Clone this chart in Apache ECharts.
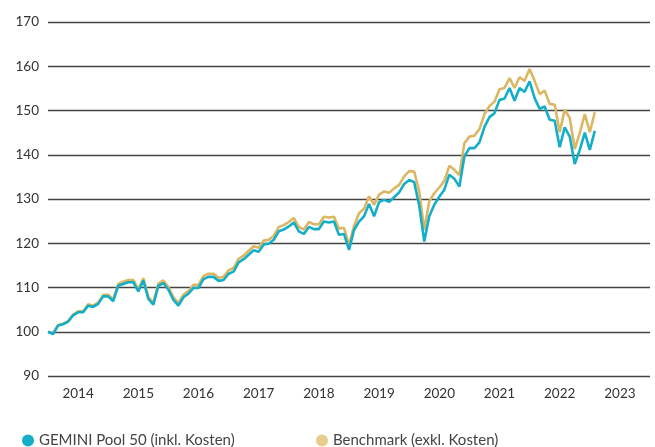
<!DOCTYPE html>
<html>
<head>
<meta charset="utf-8">
<script src="https://cdn.jsdelivr.net/npm/echarts@6/dist/echarts.min.js"></script>
<style>
  html, body { margin: 0; padding: 0; background: #fff; }
  #chart { width: 655px; height: 447px; }
</style>
</head>
<body>
<div id="chart"></div>
<script>
// Jahreslabels der x-Achse
const years = ['2014', '2015', '2016', '2017', '2018', '2019', '2020', '2021', '2022', '2023'];

// Monatsendwerte ab Dez 2013 (=100) bis Jan 2023
const gemini = [
  100.0, 99.5, 101.4, 101.7, 102.3, 103.7, 104.4, 104.4, 105.9, 105.6, 106.3, 108.0,
  108.0, 106.9, 110.4, 110.8, 111.2, 111.2, 109.1, 111.6, 107.4, 106.1, 110.4, 111.0,
  109.5, 107.2, 105.9, 107.8, 108.6, 109.9, 109.9, 111.9, 112.4, 112.4, 111.5, 111.7,
  113.1, 113.6, 115.7, 116.4, 117.4, 118.4, 118.1, 119.7, 119.9, 120.8, 122.7, 123.1,
  123.8, 124.7, 122.7, 122.1, 123.7, 123.2, 123.2, 124.9, 124.7, 124.9, 121.9, 122.1,
  118.5, 123.0, 124.9, 126.1, 128.9, 126.1, 129.3, 129.8, 129.4, 130.4, 131.5, 133.4,
  134.3, 133.8, 128.5, 120.4, 126.1, 128.7, 130.5, 132.1, 135.5, 134.6, 132.8, 139.6,
  141.5, 141.5, 142.8, 146.3, 148.5, 149.4, 152.4, 152.7, 155.1, 152.2, 155.1, 154.2,
  156.6, 152.8, 150.4, 150.9, 147.9, 147.7, 141.7, 146.2, 144.1, 137.9, 141.1, 145.0,
  141.1, 145.4
];
const benchmark = [
  100.0, 99.6, 101.5, 101.8, 102.4, 103.9, 104.6, 104.6, 106.2, 105.9, 106.6, 108.3,
  108.4, 107.3, 110.8, 111.3, 111.7, 111.7, 109.6, 112.1, 107.9, 106.6, 110.9, 111.6,
  110.1, 107.8, 106.5, 108.4, 109.2, 110.6, 110.6, 112.6, 113.1, 113.1, 112.2, 112.4,
  113.9, 114.4, 116.5, 117.2, 118.3, 119.3, 119.0, 120.6, 120.8, 121.7, 123.7, 124.1,
  124.8, 125.7, 123.7, 123.1, 124.8, 124.3, 124.3, 126.0, 125.8, 126.0, 123.3, 123.5,
  119.6, 123.9, 126.8, 127.8, 130.6, 128.7, 131.0, 131.7, 131.4, 132.4, 133.2, 135.1,
  136.3, 136.2, 131.7, 123.0, 129.5, 131.3, 132.6, 134.1, 137.5, 136.6, 135.4, 142.6,
  144.1, 144.3, 145.8, 149.2, 151.0, 152.0, 154.8, 155.1, 157.3, 155.1, 157.5, 156.7,
  159.4, 156.7, 153.7, 154.5, 151.5, 151.3, 145.1, 150.2, 148.3, 141.3, 144.9, 149.2,
  145.1, 149.6
];

const TEAL = '#15aec8';
const GOLD = '#dbb763';

// Monatskategorien: Index 0 = Ende Dez 2013, Index 120 = Ende Dez 2023
const months = ['2013-12'];
years.forEach(y => {
  for (let m = 1; m <= 12; m++) months.push(y + '-' + String(m).padStart(2, '0'));
});

const FONT = 'Lato';

var chart = echarts.init(document.getElementById('chart'));
var option = {
  animation: false,
  grid: { left: 48, right: 5, top: 22, bottom: 71 },
  legend: [
    {
      left: 17, top: 428,
      icon: 'circle', itemWidth: 12, itemHeight: 12, itemGap: 6,
      textStyle: { fontFamily: FONT, fontSize: 15, color: '#444' },
      data: ['GEMINI Pool 50 (inkl. Kosten)']
    },
    {
      left: 311, top: 428,
      icon: 'circle', itemWidth: 12, itemHeight: 12,
      textStyle: { fontFamily: FONT, fontSize: 15, color: '#444' },
      data: [{ name: 'Benchmark (exkl. Kosten)', itemStyle: { color: '#e6cd8c' } }]
    }
  ],
  xAxis: {
    type: 'category',
    data: months,
    boundaryGap: false,
    axisLine: { show: false },
    axisTick: { show: false },
    splitLine: { show: false },
    axisLabel: {
      interval: (i) => i % 12 === 6,
      formatter: (v) => v.slice(0, 4),
      margin: 11,
      fontFamily: FONT, fontSize: 13.5, color: '#333'
    }
  },
  yAxis: {
    type: 'value',
    min: 90, max: 170, interval: 10,
    axisLine: { show: false },
    axisTick: { show: false },
    axisLabel: { margin: 9, fontFamily: FONT, fontSize: 13.5, color: '#333' },
    splitLine: { lineStyle: { color: '#444', width: 1.4 } }
  },
  series: [
    {
      name: 'Benchmark (exkl. Kosten)',
      type: 'line',
      data: benchmark,
      symbol: 'none',
      color: GOLD,
      lineStyle: { width: 2.6, color: GOLD }
    },
    {
      name: 'GEMINI Pool 50 (inkl. Kosten)',
      type: 'line',
      data: gemini,
      symbol: 'none',
      color: TEAL,
      lineStyle: { width: 2.6, color: TEAL }
    }
  ]
};
chart.setOption(option);
</script>
</body>
</html>
